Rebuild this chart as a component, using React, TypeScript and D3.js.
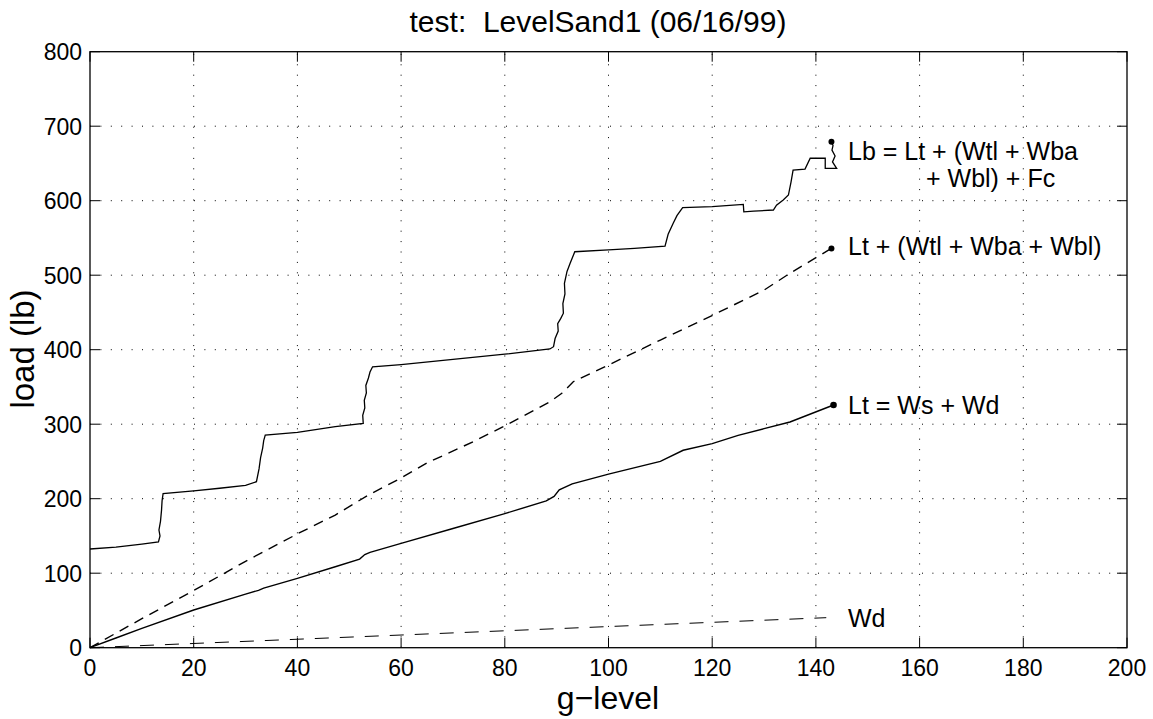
import React from "react";
import * as d3 from "d3";

const W = 1153;
const H = 719;
const M = { left: 90, right: 1127, top: 51.7, bottom: 647.7 };

const xTicks = [0, 20, 40, 60, 80, 100, 120, 140, 160, 180, 200];
const yTicks = [0, 100, 200, 300, 400, 500, 600, 700, 800];

// Lb = Lt + (Wtl + Wba + Wbl) + Fc
const lbG = [0, 5, 10, 13.2, 13.5, 13.3, 13.6, 13.8, 13.9, 14.1, 20, 25, 30, 32.1, 32.6, 32.9, 33.3, 33.5, 33.8, 40, 47.3, 52.7, 52.6, 53.0, 52.9, 53.3, 53.2, 53.7, 54.0, 54.5, 60, 70, 80, 88.7, 89.4, 89.7, 90.3, 90.2, 90.8, 91.3, 91.2, 91.6, 91.5, 92.0, 92.6, 93.5, 100, 105, 110.9, 111.5, 112.5, 113.2, 114.3, 120, 126, 126.1, 128, 131.8, 132.4, 133.7, 134.7, 135.2, 135.6, 137.9, 138.9, 141.8, 141.8, 144.0, 143.2, 143.7, 143.1, 143.3, 143.0];
const lbL = [132.5, 135, 139, 142, 150, 158, 170, 185, 197, 207, 210.5, 214, 218, 222.8, 240, 255, 268, 278, 285.5, 289, 296.7, 301, 312, 322, 332, 342, 352, 362, 370, 377, 380, 387, 394, 401, 404, 415, 425, 435, 442, 449, 462, 475, 489, 505, 516, 531.5, 534, 536, 539, 555, 570, 580, 590.6, 592, 595, 585, 586, 587.5, 594, 601, 607.6, 625, 641, 642.5, 657, 657, 643.5, 643.5, 652, 660, 668, 674, 679];

// Lt + (Wtl + Wba + Wbl)
const ltwG = [0, 10, 20.2, 30, 40.2, 47.3, 53.7, 59.8, 65, 73.9, 79.7, 88.7, 91, 93.2, 100, 110, 120.2, 130, 135, 143.0];
const ltwL = [0, 39, 77.5, 116, 153.5, 178, 205, 227, 248, 276.5, 296.6, 330, 341.5, 357, 379.5, 413, 446.6, 480, 502.6, 536];

// Lt = Ws + Wd
const ltG = [0, 5, 10, 20, 30, 32.5, 33.5, 40, 47.3, 52, 53, 54, 60, 70, 80, 88, 89.5, 90.5, 93, 100, 110, 114.4, 120, 125, 130, 135, 143.4];
const ltL = [0, 13, 26, 50.6, 72, 77, 80, 93, 108.7, 119, 125, 128, 140, 160, 180, 197, 203, 212, 220, 233, 250, 265, 274, 285, 294, 303, 325.8];

// Wd
const wdG = [0, 142];
const wdL = [0, 40.3];

const FONT = "Liberation Sans, Arial, Helvetica, sans-serif";

export default function App() {
  const x = d3.scaleLinear().domain([0, 200]).range([M.left, M.right]);
  const y = d3.scaleLinear().domain([0, 800]).range([M.bottom, M.top]);
  const line = d3
    .line<[number, number]>()
    .x((d) => x(d[0]))
    .y((d) => y(d[1]));
  const zip = (a: number[], b: number[]) => a.map((v, i) => [v, b[i]] as [number, number]);

  const lb = zip(lbG, lbL);
  const ltw = zip(ltwG, ltwL);
  const lt = zip(ltG, ltL);
  const wd = zip(wdG, wdL);

  const tickLen = 10;

  return (
    <svg width={W} height={H} style={{ position: "absolute", left: 0, top: 0, background: "#fff" }} fontFamily={FONT}>
      <rect x={0} y={0} width={W} height={H} fill="#fff" />
      {/* grid */}
      {xTicks.slice(1, -1).map((t) => (
        <line key={"gx" + t} x1={x(t)} x2={x(t)} y1={M.bottom} y2={M.top} stroke="#000" strokeWidth={1} strokeDasharray="1 9.4" />
      ))}
      {yTicks.slice(1, -1).map((t) => (
        <line key={"gy" + t} x1={M.left} x2={M.right} y1={y(t)} y2={y(t)} stroke="#000" strokeWidth={1} strokeDasharray="1 9.4" />
      ))}
      {/* ticks */}
      {xTicks.map((t) => (
        <g key={"tx" + t}>
          <line x1={x(t)} x2={x(t)} y1={M.bottom} y2={M.bottom - tickLen} stroke="#000" strokeWidth={1} />
          <line x1={x(t)} x2={x(t)} y1={M.top} y2={M.top + tickLen} stroke="#000" strokeWidth={1} />
          <text x={x(t)} y={676} textAnchor="middle" fontSize={23} fill="#000">
            {t}
          </text>
        </g>
      ))}
      {yTicks.map((t) => (
        <g key={"ty" + t}>
          <line x1={M.left} x2={M.left + tickLen} y1={y(t)} y2={y(t)} stroke="#000" strokeWidth={1} />
          <line x1={M.right} x2={M.right - tickLen} y1={y(t)} y2={y(t)} stroke="#000" strokeWidth={1} />
          <text x={82} y={y(t) + 8.3} textAnchor="end" fontSize={23} fill="#000">
            {t}
          </text>
        </g>
      ))}
      {/* box */}
      <rect x={M.left} y={M.top} width={M.right - M.left} height={M.bottom - M.top} fill="none" stroke="#000" strokeWidth={1.3} />

      {/* series */}
      <path d={line(wd) || ""} fill="none" stroke="#000" strokeWidth={1} strokeDasharray="14 11" />
      <path d={line(ltw) || ""} fill="none" stroke="#000" strokeWidth={1.4} strokeDasharray="10 7" />
      <path d={line(lt) || ""} fill="none" stroke="#000" strokeWidth={1.4} />
      <path d={line(lb) || ""} fill="none" stroke="#000" strokeWidth={1.3} />
      <circle cx={x(lbG[lbG.length - 1])} cy={y(lbL[lbL.length - 1])} r={3} fill="#000" />
      <circle cx={x(ltwG[ltwG.length - 1])} cy={y(ltwL[ltwL.length - 1])} r={3} fill="#000" />
      <circle cx={x(ltG[ltG.length - 1])} cy={y(ltL[ltL.length - 1])} r={3.3} fill="#000" />

      {/* curve labels */}
      <text x={848} y={160} fontSize={25} fill="#000" style={{ whiteSpace: "pre" }}>
        Lb = Lt + (Wtl + Wba
      </text>
      <text x={926} y={187} fontSize={25} fill="#000" style={{ whiteSpace: "pre" }}>
        + Wbl) + Fc
      </text>
      <text x={848} y={255} fontSize={25} fill="#000">
        Lt + (Wtl + Wba + Wbl)
      </text>
      <text x={848} y={414} fontSize={25} fill="#000">
        Lt = Ws + Wd
      </text>
      <text x={848} y={627} fontSize={25} fill="#000">
        Wd
      </text>

      {/* title and axis labels */}
      <text x={598} y={31.7} textAnchor="middle" fontSize={30} fill="#000" style={{ whiteSpace: "pre" }}>
        {"test:  LevelSand1 (06/16/99)"}
      </text>
      <text x={608} y={709} textAnchor="middle" fontSize={32} fill="#000">
        g−level
      </text>
      <text transform={`translate(34,349) rotate(-90)`} textAnchor="middle" fontSize={33} fill="#000">
        load (lb)
      </text>
    </svg>
  );
}
